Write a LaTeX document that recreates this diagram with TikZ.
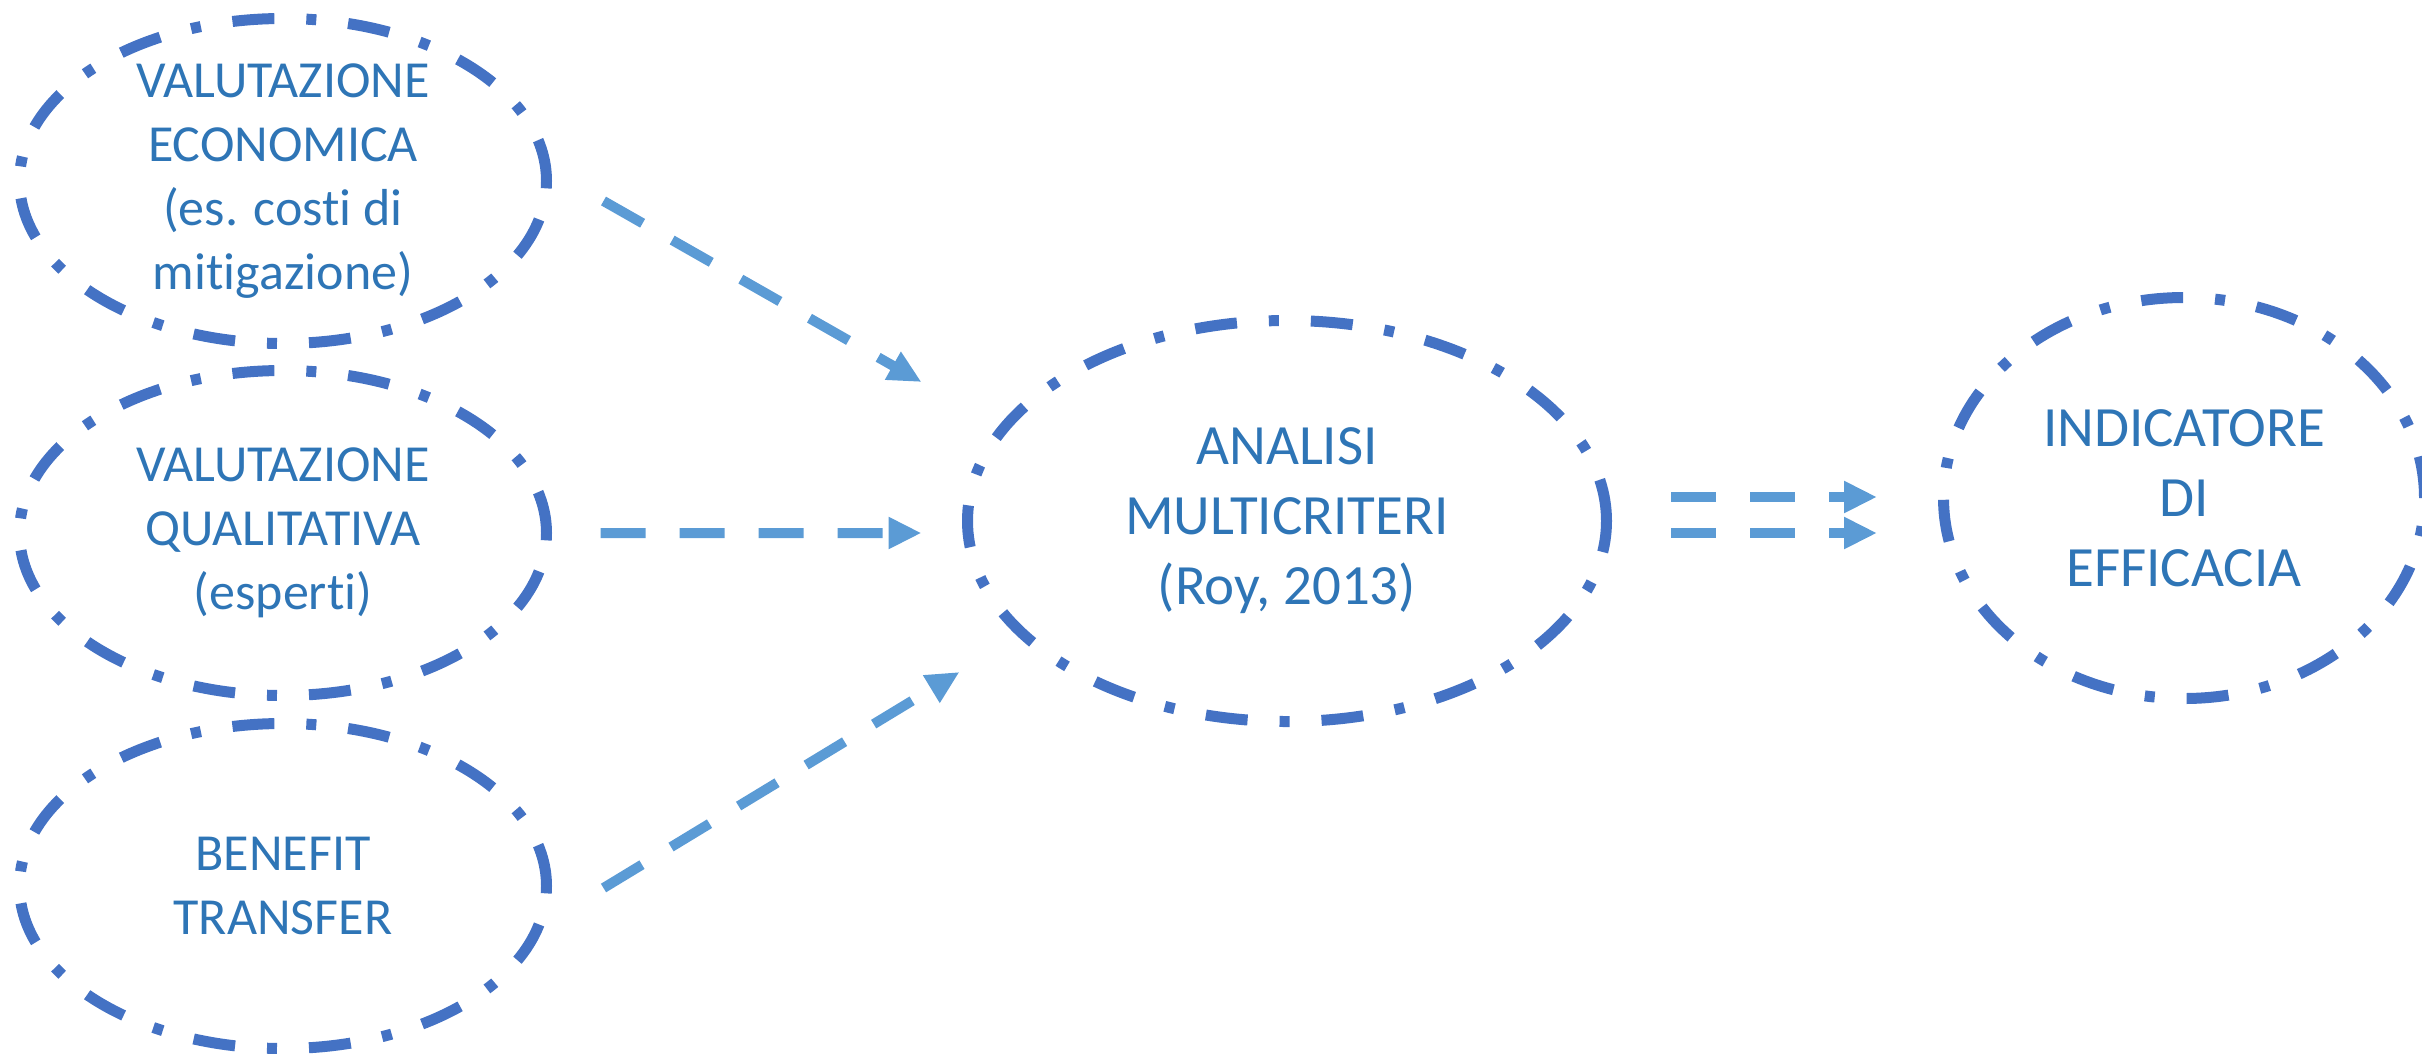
\documentclass[tikz,border=0pt]{standalone}
\usepackage{fontspec}
\setmainfont{Carlito}[Ligatures=NoCommon]
\usetikzlibrary{shapes.geometric,arrows.meta}
\definecolor{ringblue}{HTML}{4472C4}
\definecolor{textblue}{HTML}{2E75B6}
\definecolor{arrowblue}{HTML}{5B9BD5}

\begin{document}
\begin{tikzpicture}[
    bubble/.style={ellipse, draw=ringblue, line width=0.11cm,
        dash pattern=on 4.2mm off 3.2mm on 1mm off 3.2mm, inner sep=0pt},
    small/.style={align=center, text=textblue, font=\fontsize{14.8}{18.2}\selectfont},
    big/.style={align=center, text=textblue, font=\fontsize{16.2}{19.9}\selectfont},
    flow/.style={draw=arrowblue, line width=0.1cm, dash pattern=on 4.5mm off 3.4mm,
        -{Triangle[length=3.3mm,width=3mm]}}
]
    \useasboundingbox (0,0) rectangle (24.22,-10.56);

    % the three inputs
    \node[bubble, minimum width=5.27cm, minimum height=3.25cm,
        label={[small]center:VALUTAZIONE\\ECONOMICA\\(es. costi di\\mitigazione)}] (econ) at (2.83,-1.81) {};
    \node[bubble, minimum width=5.27cm, minimum height=3.25cm,
        label={[small]center:VALUTAZIONE\\QUALITATIVA\\(esperti)}] (qual) at (2.83,-5.33) {};
    \node[bubble, minimum width=5.27cm, minimum height=3.25cm,
        label={[small]center:BENEFIT\\TRANSFER}] (bt) at (2.83,-8.86) {};

    \node[bubble, minimum width=6.39cm, minimum height=4.01cm,
        label={[big]center:ANALISI\\MULTICRITERI\\(Roy, 2013)}] (mca) at (12.87,-5.21) {};
    \node[bubble, minimum width=4.81cm, minimum height=4.01cm,
        label={[big]center:INDICATORE\\DI\\EFFICACIA}] (ind) at (21.84,-4.98) {};

    \draw[flow] ([xshift=5.15mm,yshift=-2mm]econ.east) -- ([xshift=-4.05mm,yshift=13.9mm]mca.west);
    \draw[flow] ([xshift=4.85mm]qual.east) -- ([xshift=-4.05mm,yshift=-1.2mm]mca.west);
    \draw[flow] ([xshift=5.15mm,yshift=-0.2mm]bt.east) -- ([xshift=-0.25mm,yshift=-15.1mm]mca.west);

    \draw[flow] ([xshift=5.9mm,yshift=2.4mm]mca.east) coordinate (d1) -- ([xshift=-6.1mm]d1 -| ind.west);
    \draw[flow] ([xshift=5.9mm,yshift=-1.2mm]mca.east) coordinate (d2) -- ([xshift=-6.1mm]d2 -| ind.west);

\end{tikzpicture}
\end{document}
